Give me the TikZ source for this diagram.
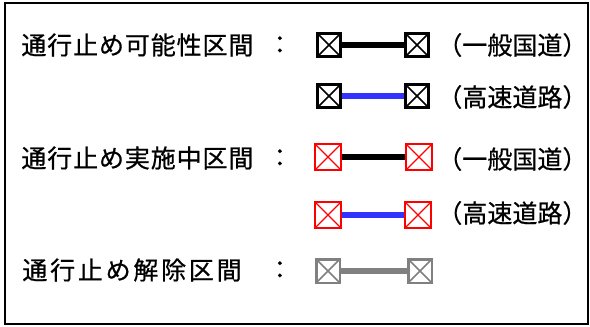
\documentclass[tikz,border=0pt]{standalone}
\usepackage{fontspec}
\newfontfamily\jpfont[FakeBold=0.6]{Noto Sans CJK JP}
\usepackage[dvipsnames]{xcolor}
\definecolor{roadblue}{RGB}{51,51,255}
\definecolor{liftgray}{RGB}{128,128,128}

\begin{document}
\begin{tikzpicture}[x=1pt,y=-1pt,thick,
    gate node/.style={rectangle,draw,inner sep=0pt,minimum size=#1,
        path picture={\draw[line width=1.6pt] (path picture bounding box.north west) -- (path picture bounding box.south east)
            (path picture bounding box.south west) -- (path picture bounding box.north east);}},
    black gate/.style={gate node=23pt,draw=black,line width=3pt,fill=white},
    red gate/.style={gate node=26pt,draw=red,line width=1.8pt,fill=white,
        path picture={\draw[red,line width=1.2pt] (path picture bounding box.north west) -- (path picture bounding box.south east)
            (path picture bounding box.south west) -- (path picture bounding box.north east);}},
    gray gate/.style={gate node=23.5pt,draw=liftgray,line width=2.5pt,fill=white,
        path picture={\draw[liftgray,line width=1.6pt] (path picture bounding box.north west) -- (path picture bounding box.south east)
            (path picture bounding box.south west) -- (path picture bounding box.north east);}},
    label node/.style={anchor=west,inner sep=0pt,font=\jpfont\fontsize{25}{28}\selectfont},
    road/.style={line width=6pt}]

    \useasboundingbox (0,0) rectangle (590,327);
    \draw[line width=2pt] (5,3) rectangle (588,324);

    % labels on the left
    \node[label node] (t1) at (21,45) {\addfontfeature{LetterSpace=3.5}通行止め可能性区間};
    \node[label node] (t3) at (21,158) {\addfontfeature{LetterSpace=3.5}通行止め実施中区間};
    \node[label node] (t5) at (22,270) {\addfontfeature{LetterSpace=11}通行止め解除区間};
    \node[label node] (c1) at (267,45) {：};
    \node[label node] (c3) at (267,158) {：};
    \node[label node] (c5) at (267,270) {：};

    % gates
    \node[black gate] (a1) at (329,45) {};
    \node[black gate] (b1) at (417,45) {};
    \node[black gate] (a2) at (329,96) {};
    \node[black gate] (b2) at (417,96) {};
    \node[red gate] (a3) at (328,157) {};
    \node[red gate] (b3) at (419,157) {};
    \node[red gate] (a4) at (328,215) {};
    \node[red gate] (b4) at (418,215) {};
    \node[gray gate] (a5) at (328,271) {};
    \node[gray gate] (b5) at (420,271) {};

    \path
        (a1) edge[road,black] (b1)
        (a2) edge[road,roadblue] (b2)
        (a3) edge[road,black] (b3)
        (a4) edge[road,roadblue] (b4)
        (a5) edge[road,liftgray] (b5)
        ;

    % road types
    \node[label node] (r1) at (437,45) {（一般国道）};
    \node[label node] (r2) at (437,97) {（高速道路）};
    \node[label node] (r3) at (437,159) {（一般国道）};
    \node[label node] (r4) at (437,213) {（高速道路）};
\end{tikzpicture}
\end{document}
